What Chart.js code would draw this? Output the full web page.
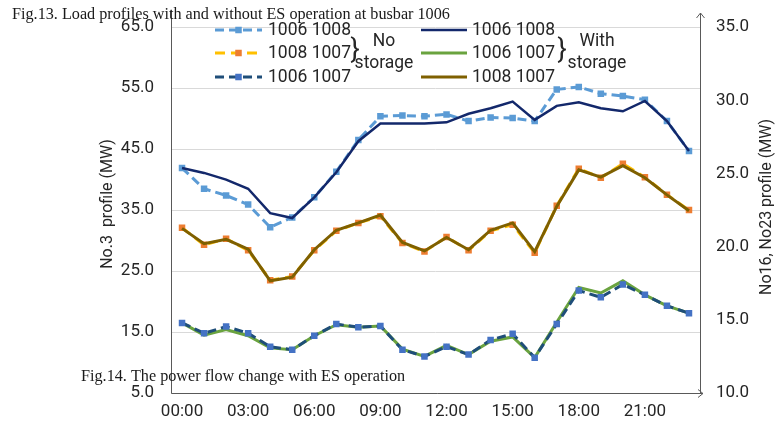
<!DOCTYPE html>
<html>
<head>
<meta charset="utf-8">
<script src="https://cdn.jsdelivr.net/npm/chart.js@4.4.1/dist/chart.umd.min.js"></script>
<style>
  html, body { margin: 0; padding: 0; background: #fff; }
  #wrap { width: 776px; height: 430px; position: relative; }
</style>
</head>
<body>
<div id="wrap"><canvas id="loadChart"></canvas></div>
<script>
// hours of the day
const hours = ['00:00','01:00','02:00','03:00','04:00','05:00','06:00','07:00','08:00','09:00','10:00','11:00',
               '12:00','13:00','14:00','15:00','16:00','17:00','18:00','19:00','20:00','21:00','22:00','23:00'];
const xTickLabels = ['00:00','03:00','06:00','09:00','12:00','15:00','18:00','21:00'];
const leftTicks = [5, 15, 25, 35, 45, 55, 65];
const rightTicks = [10, 15, 20, 25, 30, 35];

// no storage
const noStor1006_1008 = [41.9,38.5,37.4,35.9,32.2,33.8,37.1,41.3,46.5,50.4,50.5,50.4,50.7,49.6,50.2,50.1,49.6,54.8,55.2,54.1,53.7,53.1,49.6,44.7];
const noStor1008_1007 = [32.1,29.3,30.3,28.4,23.5,24.1,28.4,31.6,32.9,34.0,29.6,28.2,30.6,28.4,31.6,32.6,28.0,35.7,41.8,40.3,42.6,40.4,37.5,35.0];
const noStor1006_1007 = [16.5,14.8,15.9,14.8,12.6,12.1,14.4,16.3,15.8,16.0,12.1,11.0,12.6,11.3,13.7,14.7,10.8,16.3,21.8,20.7,22.8,21.1,19.3,18.1];
// with storage
const withStor1006_1008 = [41.9,41.1,40.0,38.5,34.5,33.7,37.1,41.2,46.3,49.2,49.2,49.2,49.4,50.8,51.7,52.8,49.8,52.1,52.7,51.7,51.2,52.9,49.6,44.7];
const withStor1006_1007 = [16.5,14.5,15.4,14.4,12.4,12.1,14.4,16.2,15.8,16.0,12.2,11.0,12.8,11.3,13.5,14.2,10.8,16.6,22.3,21.4,23.4,21.1,19.3,18.1];
const withStor1008_1007 = [32.0,29.5,30.2,28.6,23.4,24.0,28.5,31.7,32.9,34.2,29.7,28.3,30.5,28.5,31.7,32.9,28.2,35.6,41.6,40.4,42.3,40.3,37.5,34.9];

const FONT = 'Roboto';
const TXT = '#262626';
const AXIS = '#595959';

// custom legend, captions, axis titles and arrows
const decorations = {
  id: 'decorations',
  afterDatasetsDraw(chart) {
    const ctx = chart.ctx;
    const ds = chart.data.datasets;
    const rowsY = [30, 53, 77];
    const cols = [
      { x0: 215, x1: 262, tx: 268, items: [0, 1, 2] },
      { x0: 421, x1: 467, tx: 472, items: [3, 4, 5] }
    ];
    ctx.save();
    cols.forEach(col => {
      col.items.forEach((di, r) => {
        const d = ds[di];
        const y = rowsY[r];
        ctx.beginPath();
        ctx.setLineDash(d.borderDash || []);
        ctx.strokeStyle = d.borderColor;
        ctx.lineWidth = d.borderWidth;
        ctx.moveTo(col.x0, y);
        ctx.lineTo(col.x1, y);
        ctx.stroke();
        ctx.setLineDash([]);
        if (d.pointRadius > 0) {
          const s = d.pointRadius * Math.SQRT1_2;
          const cx = (col.x0 + col.x1) / 2;
          ctx.fillStyle = d.pointBackgroundColor;
          ctx.fillRect(cx - s, y - s, 2 * s, 2 * s);
        }
        ctx.fillStyle = TXT;
        ctx.font = '17.5px ' + FONT;
        ctx.textAlign = 'left';
        ctx.textBaseline = 'middle';
        ctx.fillText(d.label, col.tx, y + 1);
      });
    });
    // braces and group labels
    ctx.fillStyle = TXT;
    ctx.font = '27px ' + FONT;
    ctx.textAlign = 'center';
    ctx.fillText('}', 355, 51);
    ctx.fillText('}', 562, 51);
    ctx.font = '17.5px ' + FONT;
    ctx.fillText('No', 384, 42);
    ctx.fillText('storage', 384, 64);
    ctx.fillText('With', 597, 42);
    ctx.fillText('storage', 597, 64);
    ctx.restore();
  },
  afterDraw(chart) {
    const ctx = chart.ctx;
    const a = chart.chartArea;
    ctx.save();
    ctx.strokeStyle = AXIS;
    ctx.lineWidth = 1;
    ctx.beginPath();
    // left axis
    ctx.moveTo(a.left + 0.5, 10);
    ctx.lineTo(a.left + 0.5, a.bottom + 0.5);
    // bottom axis with arrow
    ctx.lineTo(a.right + 3, a.bottom + 0.5);
    ctx.moveTo(a.right - 2, a.bottom - 3.5);
    ctx.lineTo(a.right + 3, a.bottom + 0.5);
    ctx.lineTo(a.right - 2, a.bottom + 4.5);
    // right axis with arrow
    ctx.moveTo(a.right + 0.5, a.bottom + 0.5);
    ctx.lineTo(a.right + 0.5, 13);
    ctx.moveTo(a.right - 3.5, 18);
    ctx.lineTo(a.right + 0.5, 13);
    ctx.lineTo(a.right + 4.5, 18);
    ctx.stroke();

    // axis titles
    ctx.fillStyle = TXT;
    ctx.font = '16px ' + FONT;
    ctx.textAlign = 'center';
    ctx.textBaseline = 'middle';
    ctx.translate(108, 204);
    ctx.rotate(-Math.PI / 2);
    ctx.fillText('No.3  profile (MW)', 0, 0);
    ctx.setTransform(1, 0, 0, 1, 0, 0);
    ctx.translate(767, 207);
    ctx.rotate(-Math.PI / 2);
    ctx.fillText('No16, No23 profile (MW)', 0, 0);
    ctx.setTransform(1, 0, 0, 1, 0, 0);

    // figure captions from the page
    ctx.fillStyle = '#1a1a1a';
    ctx.font = '16.2px "Liberation Serif"';
    ctx.textAlign = 'left';
    ctx.textBaseline = 'alphabetic';
    ctx.fillText('Fig.13. Load profiles with and without ES operation at busbar 1006', 12, 19);
    ctx.fillText('Fig.14. The power flow change with ES operation', 81, 381);
    ctx.restore();
  }
};

function line(label, data, color, width, dash, marker, order) {
  return {
    label: label,
    data: data,
    borderColor: color,
    borderWidth: width,
    borderDash: dash,
    pointStyle: 'rect',
    pointRadius: marker ? 4.6 : 0,
    pointHoverRadius: marker ? 4.6 : 0,
    pointBackgroundColor: marker || color,
    pointBorderWidth: 0,
    tension: 0,
    fill: false,
    yAxisID: 'y',
    order: order
  };
}

new Chart(document.getElementById('loadChart'), {
  type: 'line',
  data: {
    labels: hours,
    datasets: [
      line('1006 1008', noStor1006_1008, '#5B9BD5', 3, [9, 5], '#5B9BD5', 5),
      line('1008 1007', noStor1008_1007, '#FFC000', 3, [10, 6], '#ED7D31', 4),
      line('1006 1007', noStor1006_1007, '#1F4E79', 3, [9, 5], '#4472C4', 1),
      line('1006 1008', withStor1006_1008, '#13286B', 2.5, [], null, 2),
      line('1006 1007', withStor1006_1007, '#6AA33F', 3, [], null, 3),
      line('1008 1007', withStor1008_1007, '#7F6000', 3, [], null, 0)
    ]
  },
  options: {
    responsive: true,
    maintainAspectRatio: false,
    animation: false,
    layout: { padding: { top: 22, left: 0, right: 0, bottom: 0 } },
    plugins: {
      legend: { display: false },
      tooltip: { enabled: false }
    },
    scales: {
      x: {
        offset: true,
        grid: { display: false, drawTicks: false },
        border: { display: false },
        afterFit: s => { s.height = 37; },
        ticks: {
          autoSkip: false,
          maxRotation: 0,
          padding: 9,
          color: TXT,
          font: { family: FONT, size: 17 },
          callback: function(v, i) {
            const l = hours[i];
            return xTickLabels.includes(l) ? l : '';
          }
        }
      },
      y: {
        position: 'left',
        min: 5,
        max: 65,
        afterBuildTicks: s => { s.ticks = leftTicks.map(v => ({ value: v })); },
        afterFit: s => { s.width = 171; },
        grid: { color: '#D9D9D9', lineWidth: 1, drawTicks: false },
        border: { display: false },
        ticks: {
          padding: 17,
          color: TXT,
          font: { family: FONT, size: 17 },
          callback: v => v.toFixed(1)
        }
      },
      y2: {
        position: 'right',
        min: 10,
        max: 35,
        afterBuildTicks: s => { s.ticks = rightTicks.map(v => ({ value: v })); },
        afterFit: s => { s.width = 76; },
        grid: { display: false, drawTicks: false },
        border: { display: false },
        ticks: {
          padding: 16,
          color: TXT,
          font: { family: FONT, size: 17 },
          callback: v => v.toFixed(1)
        }
      }
    }
  },
  plugins: [decorations]
});
</script>
</body>
</html>
